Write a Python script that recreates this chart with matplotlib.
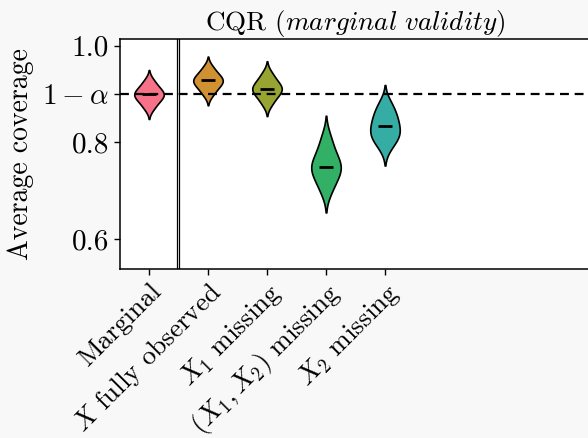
import numpy as np
import pandas as pd
import matplotlib
matplotlib.use("Agg")
import matplotlib.pyplot as plt
import seaborn as sns

categories = ["Marginal", r"$X$ fully observed", r"$X_1$ missing",
              r"$(X_1, X_2)$ missing", r"$X_2$ missing"]
colors = ['#f77189', '#cf9131', '#97a431', '#32b166', '#36ada4']

marginal = [0.8689, 0.8773, 0.8840, 0.8890, 0.8932, 0.8965, 0.8990,
            0.9015, 0.9048, 0.9090, 0.9140, 0.9207, 0.9291]
fully_observed = [0.8971, 0.9054, 0.9121, 0.9170, 0.9212, 0.9245, 0.9280,
                  0.9295, 0.9328, 0.9370, 0.9419, 0.9486, 0.9569]
x1_missing = [0.8773, 0.8867, 0.8942, 0.8998, 0.9045, 0.9082, 0.9100,
              0.9138, 0.9175, 0.9222, 0.9278, 0.9353, 0.9447]
x12_missing = [0.6960, 0.7110, 0.7230, 0.7320, 0.7395, 0.7455, 0.7500,
               0.7554, 0.7626, 0.7716, 0.7824, 0.7968, 0.8148]
x2_missing = [0.7870, 0.8010, 0.8080, 0.8140, 0.8190, 0.8240, 0.8330,
              0.8390, 0.8460, 0.8540, 0.8620, 0.8720, 0.8840]
series = [marginal, fully_observed, x1_missing, x12_missing, x2_missing]

target_level = 0.9
ytick_values = [0.6, 0.8, 0.9, 1.0]
ytick_labels = ["0.6", "0.8", r"$1-\alpha$", "1.0"]
title_main = "CQR"
title_italic = r"$\mathit{(marginal\ validity)}$"

plt.rcParams['font.family'] = 'cmr10'
plt.rcParams['mathtext.fontset'] = 'cm'
plt.rcParams['axes.formatter.use_mathtext'] = True

df = pd.DataFrame({
    "group": np.repeat(categories, [len(s) for s in series]),
    "coverage": np.concatenate(series),
})

fig = plt.figure(figsize=(5.88, 4.38), dpi=100, facecolor='#f8f8f8')
ax = fig.add_axes([119.5 / 588, 1 - 268.5 / 438, 472 / 588, (268.5 - 39) / 438])
ax.set_facecolor('white')

sns.violinplot(data=df, x="group", y="coverage", hue="group", order=categories,
               hue_order=categories, palette=colors, legend=False,
               density_norm='width', width=0.5, inner=None, cut=2,
               linewidth=1.2, linecolor='k', saturation=1, ax=ax)

for i, s in enumerate(series):
    ax.hlines(np.median(s), i - 0.12, i + 0.12, color='k', lw=2, zorder=5)

ax.axhline(target_level, color='k', lw=1.6, ls=(0, (4, 2.6)), zorder=6)
ax.axvline(0.48, color='k', lw=0.9, zorder=6)
ax.axvline(0.515, color='k', lw=0.9, zorder=6)

ax.set_xlim(-0.5, 7.5)
ax.set_ylim(0.540, 1.0135)
ax.set_yticks(ytick_values)
ax.set_yticklabels(ytick_labels, fontsize=21)
ax.set_xticks(range(len(categories)))
ax.set_xticklabels(categories, rotation=45, ha='right', rotation_mode='anchor',
                   fontsize=19.5)
ax.set_xlabel("")
ax.set_ylabel("Average coverage", fontsize=20, labelpad=6)
ax.set_title(title_main + " " + title_italic, fontsize=19.5, pad=6)
for sp in ax.spines.values():
    sp.set_linewidth(1.1)
ax.tick_params(axis='both', width=1.0, length=4)

fig.savefig("out.png", dpi=100, facecolor=fig.get_facecolor())
